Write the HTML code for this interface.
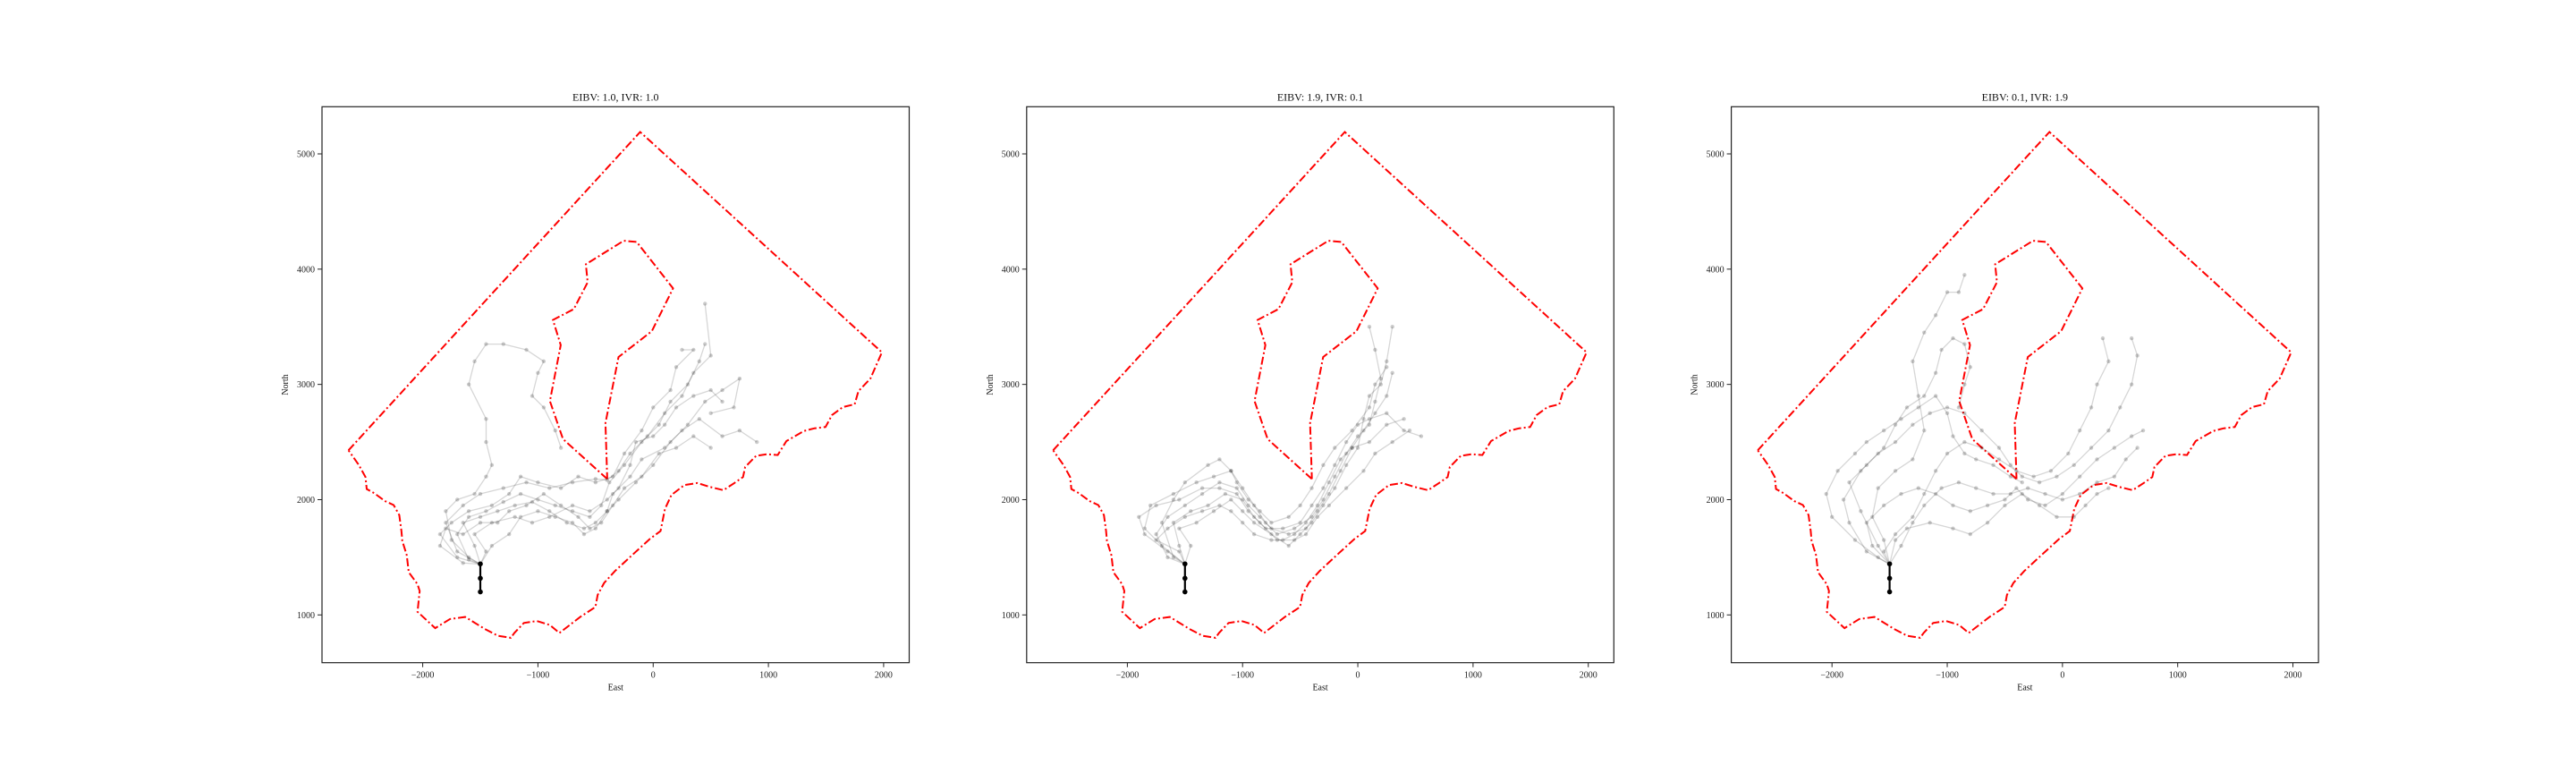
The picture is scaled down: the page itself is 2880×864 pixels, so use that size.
<!DOCTYPE html>
<html><head><meta charset="utf-8"><title>EIBV / IVR paths</title>
<style>html,body{margin:0;padding:0;background:#fff;}svg{display:block;font-family:"Liberation Serif","DejaVu Serif",serif;}</style>
</head><body>
<svg id="fig" width="2880" height="864" viewBox="0 0 2880 864" xmlns="http://www.w3.org/2000/svg"></svg>
<script>
const titles = ["EIBV: 1.0, IVR: 1.0", "EIBV: 1.9, IVR: 0.1", "EIBV: 0.1, IVR: 1.9"];
const xTicks = [-2000, -1000, 0, 1000, 2000];
const yTicks = [1000, 2000, 3000, 4000, 5000];
const outerBoundary = [[-2644,2428],[-113,5190],[1985,3278],[1886,3052],[1781,2941],[1748,2827],[1646,2803],[1552,2734],[1495,2630],[1401,2619],[1307,2595],[1156,2508],[1081,2387],[987,2394],[893,2380],[798,2283],[780,2196],[704,2144],[610,2082],[497,2109],[384,2144],[271,2127],[158,2040],[102,1918],[64,1728],[-30,1658],[-181,1520],[-331,1381],[-426,1277],[-482,1173],[-501,1069],[-633,982],[-814,843],[-896,912],[-1009,947],[-1122,930],[-1205,843],[-1235,801],[-1348,819],[-1461,878],[-1631,982],[-1763,964],[-1891,885],[-2045,1027],[-2026,1207],[-2045,1266],[-2121,1370],[-2139,1520],[-2177,1641],[-2185,1728],[-2203,1866],[-2252,1953],[-2328,1988],[-2422,2057],[-2486,2092],[-2497,2196],[-2554,2300],[-2644,2428]];
const innerBoundary = [[-399,2179],[-783,2526],[-896,2855],[-802,3341],[-870,3559],[-689,3653],[-569,3886],[-584,4042],[-256,4246],[-143,4236],[173,3833],[-11,3462],[-301,3237],[-414,2664],[-399,2179]];
const startPath = [[-1500,1200],[-1500,1318],[-1500,1443]];
const paths1 = [
[[-1500,1440],[-1600,1480],[-1700,1700],[-1600,1850],[-1450,1900],[-1300,1980],[-1150,2050],[-1000,2000],[-850,1950],[-700,1900],[-550,1850],[-450,1950],[-380,2150],[-250,2300],[-100,2500],[50,2650],[150,2850],[300,3000],[400,3200],[450,3350]],
[[-1500,1440],[-1700,1550],[-1800,1800],[-1650,1950],[-1500,2050],[-1300,2100],[-1100,2150],[-900,2100],[-700,2150],[-500,2180],[-400,2170],[-300,2250],[-200,2400],[-50,2550],[100,2750],[250,2900],[350,3100],[500,3250],[450,3700]],
[[-1500,1440],[-1550,1600],[-1650,1800],[-1500,1850],[-1350,1900],[-1200,1950],[-1050,1980],[-900,1900],[-750,1800],[-600,1750],[-500,1800],[-400,1900],[-350,2050],[-200,2200],[-100,2350],[100,2450],[250,2600],[400,2700],[600,2550],[750,2600],[900,2500]],
[[-1500,1440],[-1600,1500],[-1750,1650],[-1800,1900],[-1700,2000],[-1550,2050],[-1450,2200],[-1400,2300],[-1450,2500],[-1450,2700],[-1600,3000],[-1550,3200],[-1450,3350],[-1300,3350],[-1100,3300],[-950,3200],[-1000,3100],[-1050,2900],[-950,2800],[-850,2600],[-800,2450]],
[[-1500,1440],[-1400,1600],[-1250,1700],[-1150,1850],[-1000,1900],[-850,1850],[-700,1800],[-600,1700],[-500,1750],[-400,1900],[-300,2000],[-150,2150],[0,2300],[150,2500],[300,2650],[450,2850],[600,2950],[750,3050],[700,2800],[500,2750]],
[[-1500,1440],[-1700,1500],[-1850,1700],[-1750,1800],[-1600,1900],[-1400,1950],[-1250,2050],[-1150,2200],[-1000,2150],[-800,2100],[-650,2200],[-500,2150],[-350,2200],[-250,2400],[-100,2600],[0,2800],[150,2950],[200,3150],[350,3300],[250,3300]],
[[-1500,1440],[-1450,1550],[-1550,1700],[-1400,1800],[-1200,1850],[-1050,1800],[-900,1850],[-700,1950],[-550,1900],[-400,2000],[-300,2100],[-200,2300],[-150,2500],[0,2550],[100,2650],[200,2800],[350,2900],[500,2950],[600,2850]],
[[-1500,1440],[-1650,1450],[-1850,1600],[-1800,1750],[-1650,1700],[-1500,1800],[-1350,1800],[-1250,1900],[-1100,1950],[-950,2050],[-800,1950],[-650,1850],[-550,1750],[-450,1800],[-350,1950],[-250,2100],[-100,2200],[50,2400],[200,2450],[350,2550],[500,2450]]
];
const paths2 = [
[[-1500,1440],[-1650,1500],[-1750,1700],[-1650,1850],[-1500,1950],[-1350,2050],[-1200,2150],[-1050,2100],[-950,1950],[-850,1850],[-750,1750],[-600,1700],[-450,1750],[-350,1900],[-250,2050],[-150,2250],[-50,2450],[50,2600],[150,2750],[250,2900],[300,3100]],
[[-1500,1440],[-1700,1600],[-1850,1750],[-1800,1950],[-1600,2050],[-1400,2150],[-1250,2200],[-1100,2250],[-1000,2100],[-900,1950],[-800,1800],[-700,1700],[-550,1750],[-400,1850],[-300,2000],[-200,2200],[-100,2400],[0,2550],[100,2650],[150,2850],[200,3050],[150,3300],[100,3500]],
[[-1500,1440],[-1550,1600],[-1600,1800],[-1450,1900],[-1300,1950],[-1150,2050],[-1000,2000],[-900,1850],[-800,1750],[-650,1750],[-500,1800],[-400,1950],[-300,2100],[-200,2300],[-100,2500],[0,2650],[100,2700],[250,2750],[400,2600],[550,2550]],
[[-1500,1440],[-1650,1550],[-1850,1700],[-1900,1850],[-1750,1950],[-1550,2000],[-1350,2100],[-1200,2100],[-1050,2050],[-950,1900],[-850,1800],[-700,1650],[-550,1650],[-450,1700],[-350,1850],[-250,1950],[-100,2100],[50,2250],[150,2400],[300,2500],[450,2600]],
[[-1500,1440],[-1450,1600],[-1550,1750],[-1400,1800],[-1250,1900],[-1100,2000],[-1000,1900],[-900,1800],[-750,1700],[-600,1600],[-500,1700],[-400,1800],[-300,1950],[-200,2100],[-100,2300],[0,2450],[50,2700],[100,2900],[200,3000],[250,3200],[300,3500]],
[[-1500,1440],[-1600,1500],[-1700,1800],[-1600,2000],[-1500,2150],[-1300,2300],[-1200,2350],[-1100,2250],[-1050,2150],[-950,2000],[-850,1900],[-750,1800],[-600,1850],[-500,1950],[-400,2100],[-300,2300],[-200,2450],[-50,2600],[100,2800],[150,3000],[250,3150]],
[[-1500,1440],[-1550,1550],[-1750,1650],[-1650,1750],[-1500,1850],[-1350,1900],[-1200,1950],[-1100,1900],[-1000,1800],[-900,1700],[-750,1650],[-650,1650],[-550,1700],[-450,1800],[-350,1950],[-250,2150],[-150,2350],[-50,2450],[100,2500],[250,2650],[400,2700]]
];
const paths3 = [
[[-1500,1440],[-1700,1550],[-1850,1800],[-1900,2000],[-1750,2250],[-1600,2400],[-1450,2500],[-1300,2650],[-1150,2750],[-1000,2800],[-850,2750],[-700,2600],[-550,2450],[-450,2300],[-350,2200],[-200,2150],[-50,2200],[100,2300],[250,2450],[400,2600],[500,2800],[600,3000],[650,3250],[600,3400]],
[[-1500,1440],[-1550,1650],[-1650,1850],[-1600,2100],[-1450,2250],[-1300,2350],[-1200,2600],[-1250,2900],[-1300,3200],[-1200,3450],[-1100,3600],[-1000,3800],[-900,3800],[-850,3950]],
[[-1500,1440],[-1400,1600],[-1300,1800],[-1200,1950],[-1050,2100],[-900,2150],[-750,2100],[-600,2050],[-450,2050],[-300,2100],[-150,2050],[0,2000],[150,2050],[300,2150],[450,2200],[550,2350],[650,2450]],
[[-1500,1440],[-1600,1500],[-1800,1650],[-2000,1850],[-2050,2050],[-1950,2250],[-1800,2400],[-1700,2500],[-1550,2600],[-1400,2700],[-1250,2800],[-1100,2900],[-1000,2750],[-950,2550],[-850,2400],[-750,2350],[-600,2300],[-450,2200],[-350,2150]],
[[-1500,1440],[-1450,1650],[-1350,1750],[-1150,1800],[-950,1750],[-800,1700],[-650,1800],[-500,1950],[-350,2050],[-200,1950],[-50,1850],[100,1850],[200,1950],[300,2050],[400,2100]],
[[-1500,1440],[-1550,1550],[-1450,1700],[-1300,1850],[-1200,2050],[-1100,2250],[-1000,2400],[-850,2500],[-700,2450],[-550,2350],[-400,2250],[-250,2200],[-100,2250],[50,2400],[150,2600],[250,2800],[300,3000],[400,3200],[350,3400]],
[[-1500,1440],[-1650,1600],[-1700,1800],[-1550,1950],[-1400,2050],[-1250,2100],[-1100,2050],[-950,1950],[-800,1900],[-650,1950],[-500,2000],[-400,2100],[-300,2000],[-150,1950],[0,2050],[150,2200],[300,2350],[450,2450],[600,2550],[700,2600]],
[[-1500,1440],[-1600,1600],[-1750,1900],[-1850,2150],[-1700,2300],[-1550,2450],[-1450,2650],[-1350,2800],[-1200,2900],[-1100,3100],[-1050,3300],[-950,3400],[-850,3350],[-800,3150],[-850,3000],[-900,2800]]
];
const allPaths = [paths1, paths2, paths3];

const NS = "http://www.w3.org/2000/svg";
const svg = document.getElementById('fig');
const K = 0.12883, X0 = -2874, Y1 = 5409, TOP = 119.3, W = 656.5, H = 621.4;
function mk(tag, attrs, parent) {
  const e = document.createElementNS(NS, tag);
  for (const k in attrs) e.setAttribute(k, attrs[k]);
  (parent || svg).appendChild(e);
  return e;
}
function fmt(v) { return v < 0 ? "\u2212" + Math.abs(v) : String(v); }

for (let p = 0; p < 3; p++) {
  const L = 360 + p * 787.8;
  const sx = x => L + (x - X0) * K;
  const sy = y => TOP + (Y1 - y) * K;
  const g = mk('g', {});
  
  
  const pts = arr => arr.map(d => sx(d[0]).toFixed(1) + ',' + sy(d[1]).toFixed(1)).join(' ');

  const ob = mk('polyline', {points: pts(outerBoundary), fill: 'none', stroke: '#ff0000', 'stroke-width': 2, 'stroke-dasharray': '9 3 2 3'}, g);
  
  
  const ib = mk('polyline', {points: pts(innerBoundary), fill: 'none', stroke: '#ff0000', 'stroke-width': 2, 'stroke-dasharray': '9 3 2 3'}, g);
  
  

  allPaths[p].forEach((path, i) => {
    const pl = mk('polyline', {points: pts(path), fill: 'none', stroke: '#000', 'stroke-opacity': 0.16, 'stroke-width': 1.3}, g);
    
    
    path.forEach(d => {
      const c = mk('circle', {cx: sx(d[0]), cy: sy(d[1]), r: 2.2, fill: '#000', 'fill-opacity': 0.2}, g);
      
      
    });
  });

  const sp = mk('polyline', {points: pts(startPath), fill: 'none', stroke: '#000', 'stroke-width': 2.2}, g);
  
  
  startPath.forEach(d => {
    const c = mk('circle', {cx: sx(d[0]), cy: sy(d[1]), r: 2.8, fill: '#000'}, g);
    
    
  });

  const fr = mk('rect', {x: L, y: TOP, width: W, height: H, fill: 'none', stroke: '#222', 'stroke-width': 1.2}, g);
  
  

  xTicks.forEach(v => {
    const x = sx(v);
    const t = mk('line', {x1: x, x2: x, y1: TOP + H, y2: TOP + H + 5, stroke: '#222', 'stroke-width': 1}, g);
    
    
    const lb = mk('text', {x: x, y: TOP + H + 17, 'text-anchor': 'middle', 'font-size': 10, fill: '#222'}, g);
    lb.textContent = fmt(v);
    
    
  });
  yTicks.forEach(v => {
    const y = sy(v);
    const t = mk('line', {x1: L - 5, x2: L, y1: y, y2: y, stroke: '#222', 'stroke-width': 1}, g);
    
    
    const lb = mk('text', {x: L - 8, y: y + 3.5, 'text-anchor': 'end', 'font-size': 10, fill: '#222'}, g);
    lb.textContent = fmt(v);
    
    
  });

  const tt = mk('text', {x: L + W / 2, y: TOP - 7, 'text-anchor': 'middle', 'font-size': 12, fill: '#111'}, g);
  tt.textContent = titles[p];
  
  
  const xl = mk('text', {x: L + W / 2, y: TOP + H + 31, 'text-anchor': 'middle', 'font-size': 10, fill: '#111'}, g);
  xl.textContent = 'East';
  
  
  const yx = L - 38, yy = TOP + H / 2;
  const yl = mk('text', {x: yx, y: yy, 'text-anchor': 'middle', 'font-size': 10, fill: '#111', transform: 'rotate(-90 ' + yx + ' ' + yy + ')'}, g);
  yl.textContent = 'North';
  
  
}
</script>
</body></html>
